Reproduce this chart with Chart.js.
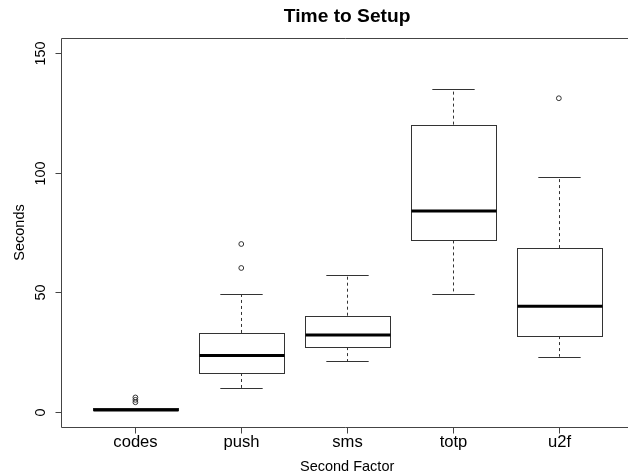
<!DOCTYPE html>
<html>
<head>
<meta charset="utf-8">
<script src="https://cdn.jsdelivr.net/npm/chart.js@4"></script>
<style>
html,body{margin:0;padding:0;background:#fff;}
canvas{display:block;}
</style>
</head>
<body>
<canvas id="c" width="628" height="473"></canvas>
<script>
const categories = ['codes', 'push', 'sms', 'totp', 'u2f'];
const whiskerLow = [1, 10.2, 21.3, 49.2, 23.2];
const q1 = [1, 16.4, 27.2, 71.7, 31.8];
const medians = [1, 23.7, 32.2, 84, 44.2];
const q3 = [2, 33.1, 40.3, 120, 68.5];
const whiskerHigh = [2, 49.2, 57.2, 135, 98.2];
const outlierIndex = [0, 0, 0, 1, 1, 4];
const outlierValues = [4.2, 5.2, 6.2, 60.2, 70.2, 131];
const yTicks = [0, 50, 100, 150];
const titleText = 'Time to Setup';
const xTitle = 'Second Factor';
const yTitle = 'Seconds';

const FONT = '"Liberation Sans", Arial, Helvetica, sans-serif';

const boxPlugin = {
  id: 'boxPlugin',
  beforeDatasetsDraw(chart) {
    const ctx = chart.ctx;
    const xs = chart.scales.x, ys = chart.scales.y;
    const unit = xs.getPixelForValue(2) - xs.getPixelForValue(1);
    const halfBox = unit * 0.4, halfCap = unit * 0.2;
    ctx.save();
    ctx.strokeStyle = '#333';
    for (let i = 0; i < categories.length; i++) {
      const cx = Math.round(xs.getPixelForValue(i + 1)) + 0.5;
      const yq1 = ys.getPixelForValue(q1[i]);
      const yq3 = ys.getPixelForValue(q3[i]);
      const ym = ys.getPixelForValue(medians[i]);
      const ylo = ys.getPixelForValue(whiskerLow[i]);
      const yhi = ys.getPixelForValue(whiskerHigh[i]);
      // whiskers (dashed)
      ctx.lineWidth = 1;
      ctx.setLineDash([3, 3]);
      ctx.beginPath();
      if (yhi < yq3) { ctx.moveTo(cx, yq3); ctx.lineTo(cx, yhi); }
      if (ylo > yq1) { ctx.moveTo(cx, yq1); ctx.lineTo(cx, ylo); }
      ctx.stroke();
      ctx.setLineDash([]);
      // caps
      ctx.beginPath();
      ctx.moveTo(cx - halfCap, Math.round(yhi) + 0.5); ctx.lineTo(cx + halfCap, Math.round(yhi) + 0.5);
      ctx.moveTo(cx - halfCap, Math.round(ylo) + 0.5); ctx.lineTo(cx + halfCap, Math.round(ylo) + 0.5);
      ctx.stroke();
      // box
      ctx.fillStyle = '#fff';
      const l = Math.round(cx - halfBox) + 0.5, r = Math.round(cx + halfBox) + 0.5;
      const t = Math.round(yq3) + 0.5, b = Math.round(yq1) + 0.5;
      ctx.fillRect(l, t, r - l, b - t);
      ctx.strokeRect(l, t, r - l, b - t);
      // median
      ctx.strokeStyle = '#000';
      ctx.lineWidth = 3;
      ctx.beginPath();
      ctx.moveTo(l, ym); ctx.lineTo(r, ym);
      ctx.stroke();
      ctx.strokeStyle = '#333';
    }
    ctx.restore();
  },
  afterDraw(chart) {
    const ctx = chart.ctx;
    const xs = chart.scales.x, ys = chart.scales.y;
    const a = chart.chartArea;
    const plotRight = xs.getPixelForValue(5.7);
    const midX = (a.left + plotRight) / 2;
    ctx.save();
    // frame
    ctx.strokeStyle = '#444';
    ctx.lineWidth = 1;
    const L = Math.round(a.left) + 0.5, T = Math.round(a.top) + 0.5, B = Math.round(a.bottom) + 0.5;
    ctx.beginPath();
    ctx.moveTo(chart.width + 2, T); ctx.lineTo(L, T); ctx.lineTo(L, B); ctx.lineTo(chart.width + 2, B);
    ctx.stroke();
    // y ticks
    ctx.fillStyle = '#000';
    ctx.textAlign = 'center';
    ctx.textBaseline = 'middle';
    yTicks.forEach(v => {
      const y = Math.round(ys.getPixelForValue(v)) + 0.5;
      ctx.beginPath(); ctx.moveTo(L, y); ctx.lineTo(L - 6, y); ctx.stroke();
      ctx.save();
      ctx.translate(41.5, y);
      ctx.rotate(-Math.PI / 2);
      ctx.font = '14.4px ' + FONT;
      ctx.fillText(String(v), 0, 0);
      ctx.restore();
    });
    // x ticks
    categories.forEach((c, i) => {
      const x = Math.round(xs.getPixelForValue(i + 1)) + 0.5;
      ctx.beginPath(); ctx.moveTo(x, B); ctx.lineTo(x, B + 6); ctx.stroke();
      ctx.font = '16.6px ' + FONT;
      ctx.fillText(c, x, 442);
    });
    // axis titles
    ctx.font = '14.5px ' + FONT;
    ctx.fillText(xTitle, midX, 466.5);
    ctx.save();
    ctx.translate(19.5, (a.top + a.bottom) / 2);
    ctx.rotate(-Math.PI / 2);
    ctx.fillText(yTitle, 0, 0);
    ctx.restore();
    // main title
    ctx.font = 'bold 19.2px ' + FONT;
    ctx.fillText(titleText, midX, 16.5);
    ctx.restore();
  }
};

const outlierPoints = outlierValues.map((v, k) => ({ x: outlierIndex[k] + 1, y: v }));

new Chart(document.getElementById('c'), {
  type: 'scatter',
  data: {
    datasets: [{
      data: outlierPoints,
      pointStyle: 'circle',
      pointRadius: 2.4,
      pointBorderWidth: 1,
      pointBackgroundColor: 'rgba(255,255,255,0)',
      pointBorderColor: '#333'
    }]
  },
  options: {
    responsive: false,
    animation: false,
    devicePixelRatio: 1,
    layout: { padding: { left: 61.3, right: 0, top: 38.3, bottom: 46.3 } },
    plugins: { legend: { display: false }, title: { display: false }, tooltip: { enabled: false } },
    scales: {
      x: { type: 'linear', display: false, bounds: 'data', min: 0.3, max: 5.606 },
      y: { type: 'linear', display: false, bounds: 'data', min: -6, max: 156 }
    }
  },
  plugins: [boxPlugin]
});
</script>
</body>
</html>
